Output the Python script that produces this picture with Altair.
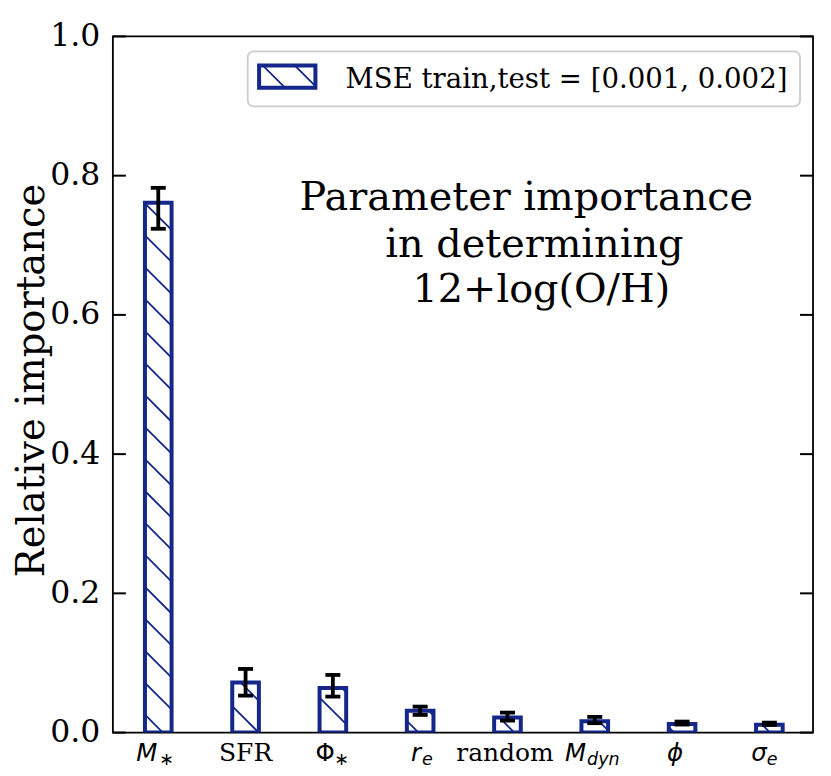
import altair as alt
import pandas as pd
import numpy as np

# ---------------- data ----------------
categories = ["M*", "SFR", "Phi*", "r_e", "random", "M_dyn", "phi", "sigma_e"]
importance = [0.761, 0.072, 0.064, 0.0314, 0.0218, 0.0161, 0.0122, 0.0113]
err_low = [0.7237, 0.0531, 0.0517, 0.0254, 0.0172, 0.0135, 0.0115, 0.0110]
err_high = [0.7825, 0.0914, 0.0828, 0.0373, 0.0287, 0.0225, 0.0158, 0.0143]

label_main = ["M", "SFR", "Φ", "r", "random", "M", "ϕ", "σ"]
label_sub = ["∗", "", "∗", "e", "", "dyn", "", "e"]

y_ticks = [0.0, 0.2, 0.4, 0.6, 0.8, 1.0]
y_title = "Relative importance"
legend_label = "MSE train,test = [0.001, 0.002]"
annotation_lines = ["Parameter importance", "in determining", "12+log(O/H)"]

# ---------------- layout / style ----------------
W, H = 701, 697
X0, X1 = -0.52, 7.5
BAR_W = 0.305
NAVY = "#15278a"
HATCH_SP = 32
HATCH_PHASE = 7
PPU = W / (X1 - X0)          # pixels per x unit
CAP_HALF = 7.5 / PPU

main_group = ["sans-it", "serif", "sans", "sans-it", "serif", "sans-it", "sans-it", "sans-it"]
sub_group = ["sans", "", "sans", "sans-it", "", "sans-it", "", "sans-it"]
main_dx = [-1.0, 0.0, 2.0, 0.8, -2.5, -8.7, 1.0, -2.7]
sub_dx = [1.0, 0.0, 1.5, 1.8, 0.0, -7.7, 0.0, -2.7]


def px_x(x):
    return (x - X0) / (X1 - X0) * W


def px_y(y):
    return (1 - y) * H


def dx_(p):
    return X0 + p / W * (X1 - X0)


def dy_(p):
    return 1 - p / H


def hatch_segments(left, right, top, bottom):
    segs = []
    n_min = int(np.floor((top - right - HATCH_PHASE) / HATCH_SP)) - 1
    n_max = int(np.ceil((bottom - left - HATCH_PHASE) / HATCH_SP)) + 1
    for n in range(n_min, n_max + 1):
        c = HATCH_PHASE + HATCH_SP * n
        xs = max(left, top - c)
        xe = min(right, bottom - c)
        if xe - xs > 0.5:
            segs.append((xs, xs + c, xe, xe + c))
    return segs


pos = list(range(len(categories)))
bars = pd.DataFrame({
    "cat": categories,
    "pos": pos,
    "value": importance,
    "lo": err_low,
    "hi": err_high,
})
bars["xl"] = bars["pos"] - BAR_W / 2
bars["xr"] = bars["pos"] + BAR_W / 2
bars["base"] = 0.0

hrows = []
for _, r in bars.iterrows():
    for (x1, y1, x2, y2) in hatch_segments(px_x(r.xl), px_x(r.xr), px_y(r.value), px_y(0)):
        hrows.append({"x": dx_(x1), "y": dy_(y1), "x2": dx_(x2), "y2": dy_(y2)})
hatch = pd.DataFrame(hrows)

caps = pd.concat([
    pd.DataFrame({"y": bars["lo"], "xl": bars["pos"] - CAP_HALF, "xr": bars["pos"] + CAP_HALF}),
    pd.DataFrame({"y": bars["hi"], "xl": bars["pos"] - CAP_HALF, "xr": bars["pos"] + CAP_HALF}),
])

xs = alt.Scale(domain=[X0, X1], nice=False, zero=False)
ys = alt.Scale(domain=[0, 1], nice=False, zero=False)

y_axis = alt.Axis(
    values=y_ticks, format=".1f", ticks=False, tickSize=0, domain=False, grid=False,
    labelFont="DejaVu Serif", labelFontSize=31.5, labelColor="black", labelPadding=13,
    title=y_title, titleFont="DejaVu Serif", titleFontSize=38.5, titleFontWeight="normal",
    titleColor="black", titleX=-69, titleY=344, titleAngle=270, titleAlign="center",
    titleBaseline="alphabetic",
)


def Yq(field):
    return alt.Y(f"{field}:Q", scale=ys, axis=y_axis)


def Xq(field):
    return alt.X(f"{field}:Q", scale=xs, axis=None)


hatch_layer = alt.Chart(hatch).mark_rule(color=NAVY, strokeWidth=1.8, clip=True).encode(
    x=Xq("x"), y=Yq("y"), x2="x2:Q", y2="y2:Q",
)

outline = alt.Chart(bars).mark_rect(fill="white", fillOpacity=0, stroke=NAVY, strokeWidth=4, clip=True).encode(
    x=Xq("xl"), x2="xr:Q", y=Yq("value"), y2="base:Q",
)

err_v = alt.Chart(bars).mark_rule(color="black", strokeWidth=3.8).encode(
    x=Xq("pos"), y=Yq("lo"), y2="hi:Q",
)
err_caps = alt.Chart(caps).mark_rule(color="black", strokeWidth=3.8).encode(
    x=Xq("xl"), x2="xr:Q", y=Yq("y"),
)

ticks_df = pd.DataFrame({"t": y_ticks})
tick_l = alt.Chart(ticks_df).mark_rule(color="black", strokeWidth=2).encode(
    y=Yq("t"), x=alt.value(0), x2=alt.value(13),
)
tick_r = alt.Chart(ticks_df).mark_rule(color="black", strokeWidth=2).encode(
    y=Yq("t"), x=alt.value(W - 13), x2=alt.value(W),
)

lab = pd.DataFrame({
    "pos": pos, "main": label_main, "sub": label_sub,
    "mg": main_group, "sg": sub_group, "mdx": main_dx, "sdx": sub_dx,
})
lab["xm"] = lab["pos"] + lab["mdx"] / PPU
lab["xsub"] = lab["pos"] + lab["sdx"] / PPU
MAIN_BASE = 725
SUB_BASE = 729.7


def lab_layer(df, textfield, xfield, font, style, size, align, ybase):
    return alt.Chart(df).mark_text(
        font=font, fontStyle=style, fontSize=size, align=align, baseline="alphabetic", color="black"
    ).encode(
        x=Xq(xfield), y=alt.value(ybase), text=f"{textfield}:N"
    )


lab_serif = lab_layer(lab[lab.mg == "serif"], "main", "xm", "DejaVu Serif", "normal", 25, "center", MAIN_BASE)
lab_main_it = lab_layer(lab[lab.mg == "sans-it"], "main", "xm", "DejaVu Sans", "italic", 24.5, "right", MAIN_BASE)
lab_main_up = lab_layer(lab[lab.mg == "sans"], "main", "xm", "DejaVu Sans", "normal", 24.5, "right", MAIN_BASE)
lab_sub_it = lab_layer(lab[lab.sg == "sans-it"], "sub", "xsub", "DejaVu Sans", "italic", 17.5, "left", SUB_BASE)
lab_sub_up = lab_layer(lab[lab.sg == "sans"], "sub", "xsub", "DejaVu Sans", "normal", 17.5, "left", SUB_BASE)

ann_x = [414, 422, 429]
ann_y = [174, 220.7, 265.7]
ann_layers = []
for t, ax_, ay_ in zip(annotation_lines, ann_x, ann_y):
    ann_layers.append(
        alt.Chart(pd.DataFrame({"t": [t]})).mark_text(
            font="DejaVu Serif", fontSize=39.8, align="center", baseline="alphabetic", color="black"
        ).encode(x=alt.value(ax_), y=alt.value(ay_), text="t:N")
    )

leg_box = alt.Chart(pd.DataFrame({"a": [0]})).mark_rect(
    fill="white", fillOpacity=0.8, stroke="#cccccc", strokeWidth=1.8, cornerRadius=6
).encode(x=alt.value(135), x2=alt.value(688), y=alt.value(15), y2=alt.value(70))

PL, PR, PT, PB = 146.4, 202.8, 29.0, 51.3
lrows = []
for (x1, y1, x2, y2) in hatch_segments(PL, PR, PT, PB):
    lrows.append({"x": dx_(x1), "y": dy_(y1), "x2": dx_(x2), "y2": dy_(y2)})
leg_hatch = alt.Chart(pd.DataFrame(lrows)).mark_rule(color=NAVY, strokeWidth=1.8).encode(
    x=Xq("x"), y=Yq("y"), x2="x2:Q", y2="y2:Q",
)
leg_patch = alt.Chart(pd.DataFrame({"a": [0]})).mark_rect(
    fillOpacity=0, fill="white", stroke=NAVY, strokeWidth=4
).encode(x=alt.value(PL), x2=alt.value(PR), y=alt.value(PT), y2=alt.value(PB))
leg_text = alt.Chart(pd.DataFrame({"t": [legend_label]})).mark_text(
    font="DejaVu Serif", fontSize=27.6, align="left", baseline="alphabetic", color="black"
).encode(x=alt.value(233), y=alt.value(51.4), text="t:N")

chart = alt.layer(
    outline, hatch_layer, err_v, err_caps, tick_l, tick_r,
    lab_serif, lab_main_it, lab_main_up, lab_sub_it, lab_sub_up,
    *ann_layers, leg_box, leg_hatch, leg_patch, leg_text,
).properties(
    width=W, height=H,
    padding={"left": 105, "top": 28, "right": 10, "bottom": 40},
    autosize=alt.AutoSizeParams(type="none"),
    background="white",
).configure_view(stroke="black", strokeWidth=1.8)

chart.save("out.html", embed_options={"renderer": "svg", "actions": False})
